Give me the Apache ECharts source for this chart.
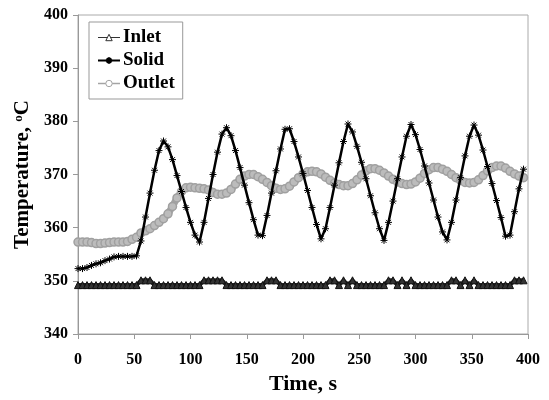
<!DOCTYPE html>
<html>
<head>
<meta charset="utf-8">
<script src="https://cdn.jsdelivr.net/npm/echarts@6/dist/echarts.min.js"></script>
<style>
  html, body { margin: 0; padding: 0; background: #fff; }
  #chart { width: 549px; height: 400px; }
</style>
</head>
<body>
<div id="chart"></div>
<script>
// time, s
var time = [0,4,8,12,16,20,24,28,32,36,40,44,48,52,56,60,64,68,72,76,80,84,88,92,96,
  100,104,108,112,116,120,124,128,132,136,140,144,148,152,156,160,164,168,172,176,180,184,188,192,196,
  200,204,208,212,216,220,224,228,232,236,240,244,248,252,256,260,264,268,272,276,280,284,288,292,296,
  300,304,308,312,316,320,324,328,332,336,340,344,348,352,356,360,364,368,372,376,380,384,388,392,396];

var inlet = [349.2,349.2,349.2,349.2,349.2,349.2,349.2,349.2,349.2,349.2,349.2,349.2,349.2,349.2,
  350.1,350.1,350.1,
  349.2,349.2,349.2,349.2,349.2,349.2,349.2,349.2,349.2,349.2,349.2,
  350.1,350.1,350.1,350.1,350.1,
  349.2,349.2,349.2,349.2,349.2,349.2,349.2,349.2,349.2,
  350.1,350.1,350.1,
  349.2,349.2,349.2,349.2,349.2,349.2,349.2,349.2,349.2,349.2,349.2,
  350.1,350.1,349.2,350.1,349.2,350.1,
  349.2,349.2,349.2,349.2,349.2,349.2,349.2,
  350.1,350.1,349.2,350.1,349.2,350.1,
  349.2,349.2,349.2,349.2,349.2,349.2,349.2,349.2,
  350.1,350.1,349.2,350.1,349.2,350.1,
  349.2,349.2,349.2,349.2,349.2,349.2,349.2,349.2,
  350.1,350.1,350.1];

var solid = [352.3,352.3,352.5,352.9,353.2,353.4,353.8,354.1,354.5,354.6,354.6,354.6,354.6,354.7,
  357.5,362.0,366.5,370.8,374.5,376.3,
  375.2,372.8,369.8,366.8,363.8,361.0,358.6,357.3,
  361.0,365.5,370.0,374.2,377.6,378.8,
  377.3,374.5,371.3,368.0,364.7,361.5,358.6,358.5,
  362.3,366.5,370.7,374.8,378.5,
  378.6,376.2,373.3,370.2,367.0,363.8,360.6,357.9,
  359.8,363.8,368.0,372.2,376.2,379.5,
  378.0,375.3,372.3,369.2,366.0,362.8,359.8,357.6,
  361.0,365.0,369.2,373.3,377.2,379.4,
  377.5,374.7,371.6,368.4,365.2,362.0,359.2,357.7,
  361.0,365.2,369.4,373.5,377.2,379.3,
  377.4,374.6,371.5,368.3,365.1,361.9,358.4,358.6,
  363.0,367.3,371.0];

var outlet = [357.3,357.3,357.3,357.2,357.0,357.0,357.1,357.2,357.3,357.3,357.3,357.4,357.8,358.2,
  359.0,359.4,359.8,360.4,361.0,361.7,362.6,364.0,365.6,366.8,367.5,
  367.6,367.5,367.4,367.3,367.1,366.6,366.3,366.3,366.5,367.2,368.2,369.1,369.7,
  370.0,370.0,369.6,369.1,368.5,367.9,367.4,367.2,367.3,367.8,368.6,369.4,370.1,
  370.5,370.6,370.5,370.1,369.5,368.9,368.4,368.1,367.9,367.9,368.3,369.0,369.9,
  370.7,371.1,371.1,370.8,370.3,369.7,369.1,368.6,368.3,368.1,368.2,368.6,369.3,
  370.2,370.9,371.3,371.3,371.0,370.6,370.0,369.4,368.9,368.5,368.4,368.5,369.0,
  369.8,370.7,371.3,371.6,371.6,371.2,370.6,370.1,369.7,369.4];

function pairs(vals) {
  return time.map(function (t, i) { return [t, vals[i]]; });
}

var font = 'Liberation Serif';
var star = 'path://M5,0L5,10M0,5L10,5M1.5,1.5L8.5,8.5M8.5,1.5L1.5,8.5';

echarts.init(document.getElementById('chart')).setOption({
  animation: false,
  textStyle: { fontFamily: font },
  grid: {
    left: 78, right: 21, top: 15, bottom: 61,
    show: true, borderColor: '#aaa', borderWidth: 1
  },
  legend: {
    orient: 'vertical',
    left: 89, top: 22,
    padding: [6, 8, 6, 8],
    itemGap: 4,
    itemWidth: 22, itemHeight: 8,
    borderColor: '#999', borderWidth: 1,
    backgroundColor: '#fff',
    data: [
      { name: 'Inlet', itemStyle: { color: '#fff', borderColor: '#333', borderWidth: 1 }, lineStyle: { width: 1, color: '#333' } },
      { name: 'Solid', lineStyle: { width: 2, color: '#000' } },
      { name: 'Outlet', itemStyle: { color: '#fff', borderColor: '#a4a4a4', borderWidth: 1 }, lineStyle: { width: 1.5, color: '#a4a4a4' } }
    ],
    textStyle: { fontFamily: font, fontWeight: 'bold', fontSize: 19, color: '#000', padding: [0, 0, 0, -2] }
  },
  xAxis: {
    type: 'value',
    min: 0, max: 400, interval: 50,
    name: 'Time, s',
    nameLocation: 'middle',
    nameGap: 39,
    nameTextStyle: { fontFamily: font, fontWeight: 'bold', fontSize: 22, color: '#000' },
    axisLine: { lineStyle: { color: '#999' } },
    axisTick: { length: 5, lineStyle: { color: '#999' } },
    axisLabel: { fontFamily: font, fontWeight: 'bold', fontSize: 16, color: '#000', margin: 18 },
    splitLine: { show: false }
  },
  yAxis: {
    type: 'value',
    min: 340, max: 400, interval: 10,
    name: 'Temperature, {sup|o}C',
    nameLocation: 'middle',
    nameGap: 38,
    nameTextStyle: {
      fontFamily: font, fontWeight: 'bold', fontSize: 21, color: '#000',
      rich: { sup: { fontFamily: font, fontWeight: 'bold', fontSize: 13, color: '#000', verticalAlign: 'top' } }
    },
    axisLine: { show: true, lineStyle: { color: '#999' } },
    axisTick: { show: true, length: 5, lineStyle: { color: '#999' } },
    axisLabel: { fontFamily: font, fontWeight: 'bold', fontSize: 16, color: '#000', margin: 10 },
    splitLine: { show: false }
  },
  series: [
    {
      name: 'Inlet',
      type: 'line',
      data: pairs(inlet),
      symbol: 'triangle',
      symbolSize: 7,
      showAllSymbol: true,
      lineStyle: { color: '#222', width: 4 },
      itemStyle: { color: '#333', borderColor: '#111', borderWidth: 1 },
      z: 2
    },
    {
      name: 'Outlet',
      type: 'line',
      data: pairs(outlet),
      symbol: 'circle',
      symbolSize: 8,
      showAllSymbol: true,
      lineStyle: { color: '#a4a4a4', width: 7 },
      itemStyle: { color: '#bcbcbc', borderColor: '#a0a0a0', borderWidth: 1.5 },
      z: 3
    },
    {
      name: 'Solid',
      type: 'line',
      data: pairs(solid),
      symbol: star,
      symbolSize: 7,
      showAllSymbol: true,
      lineStyle: { color: '#000', width: 2.5 },
      itemStyle: { color: '#000', borderColor: '#000', borderWidth: 1 },
      z: 4
    }
  ]
});
</script>
</body>
</html>
